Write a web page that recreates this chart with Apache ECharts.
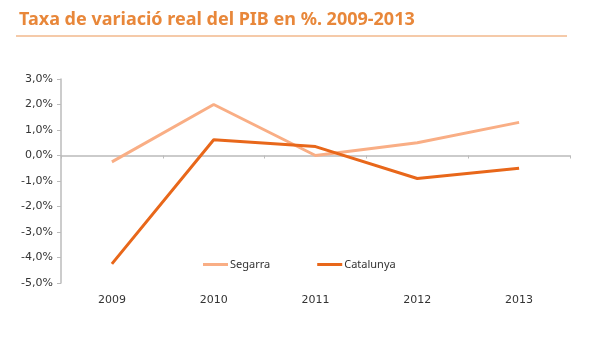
<!DOCTYPE html>
<html><head><meta charset="utf-8">
<script src="https://cdn.jsdelivr.net/npm/echarts@6/dist/echarts.min.js"></script>
<style>html,body{margin:0;padding:0;background:#fff}#c{width:600px;height:360px}</style>
</head><body><div id="c"></div>
<script>
const categories = ['2009','2010','2011','2012','2013'];
const segarra = [-0.25, 2.0, 0.0, 0.5, 1.3];
const catalunya = [-4.25, 0.62, 0.35, -0.9, -0.5];
const titleText = 'Taxa de variació real del PIB en %. 2009-2013';

const chart = echarts.init(document.getElementById('c'));
chart.setOption({
  animation: false,
  title: {
    text: titleText, left: 14, top: 6,
    textStyle: {fontFamily: 'Noto Sans', fontWeight: 'bold', fontSize: 18, color: '#E8873A'}
  },
  graphic: [{type: 'line', shape: {x1: 16, y1: 36, x2: 567, y2: 36}, style: {stroke: '#F2B98C', lineWidth: 1.5}}],
  legend: {
    left: 198, top: 254, itemGap: 47, icon: 'rect', itemWidth: 25, itemHeight: 3,
    textStyle: {fontFamily: 'Noto Sans', fontSize: 11, color: '#333', padding: [0,0,0,-3]},
    data: ['Segarra','Catalunya']
  },
  grid: {left: 61, right: 30, top: 79, bottom: 77},
  xAxis: [{
    type: 'category', data: categories, position: 'bottom',
    axisLine: {show: false, onZero: false}, axisTick: {show: false},
    axisLabel: {fontFamily: 'DejaVu Sans', fontSize: 11, color: '#333', margin: 12}
  }, {
    type: 'category', data: categories, position: 'bottom',
    axisLine: {show: true, onZero: true, lineStyle: {color: '#bbbbbb', width: 1.5}},
    axisTick: {show: true, length: 3, inside: false, lineStyle: {color: '#bbbbbb'}},
    axisLabel: {show: false}
  }],
  yAxis: {
    type: 'value', min: -5, max: 3, interval: 1,
    axisLine: {show: true, lineStyle: {color: '#bbbbbb', width: 1.5}},
    axisTick: {show: true, length: 4, lineStyle: {color: '#bbbbbb'}},
    splitLine: {show: false},
    axisLabel: {fontFamily: 'DejaVu Sans', fontSize: 11, color: '#333', margin: 8,
      formatter: v => v.toFixed(1).replace('.', ',') + '%'}
  },
  series: [{
    name: 'Segarra', type: 'line', data: segarra, showSymbol: false, symbol: 'none',
    lineStyle: {width: 3, color: '#F9AE85'}, itemStyle: {color: '#F9AE85'}
  }, {
    name: 'Catalunya', type: 'line', data: catalunya, showSymbol: false, symbol: 'none',
    lineStyle: {width: 3, color: '#E8671A'}, itemStyle: {color: '#E8671A'}
  }]
});
</script></body></html>
